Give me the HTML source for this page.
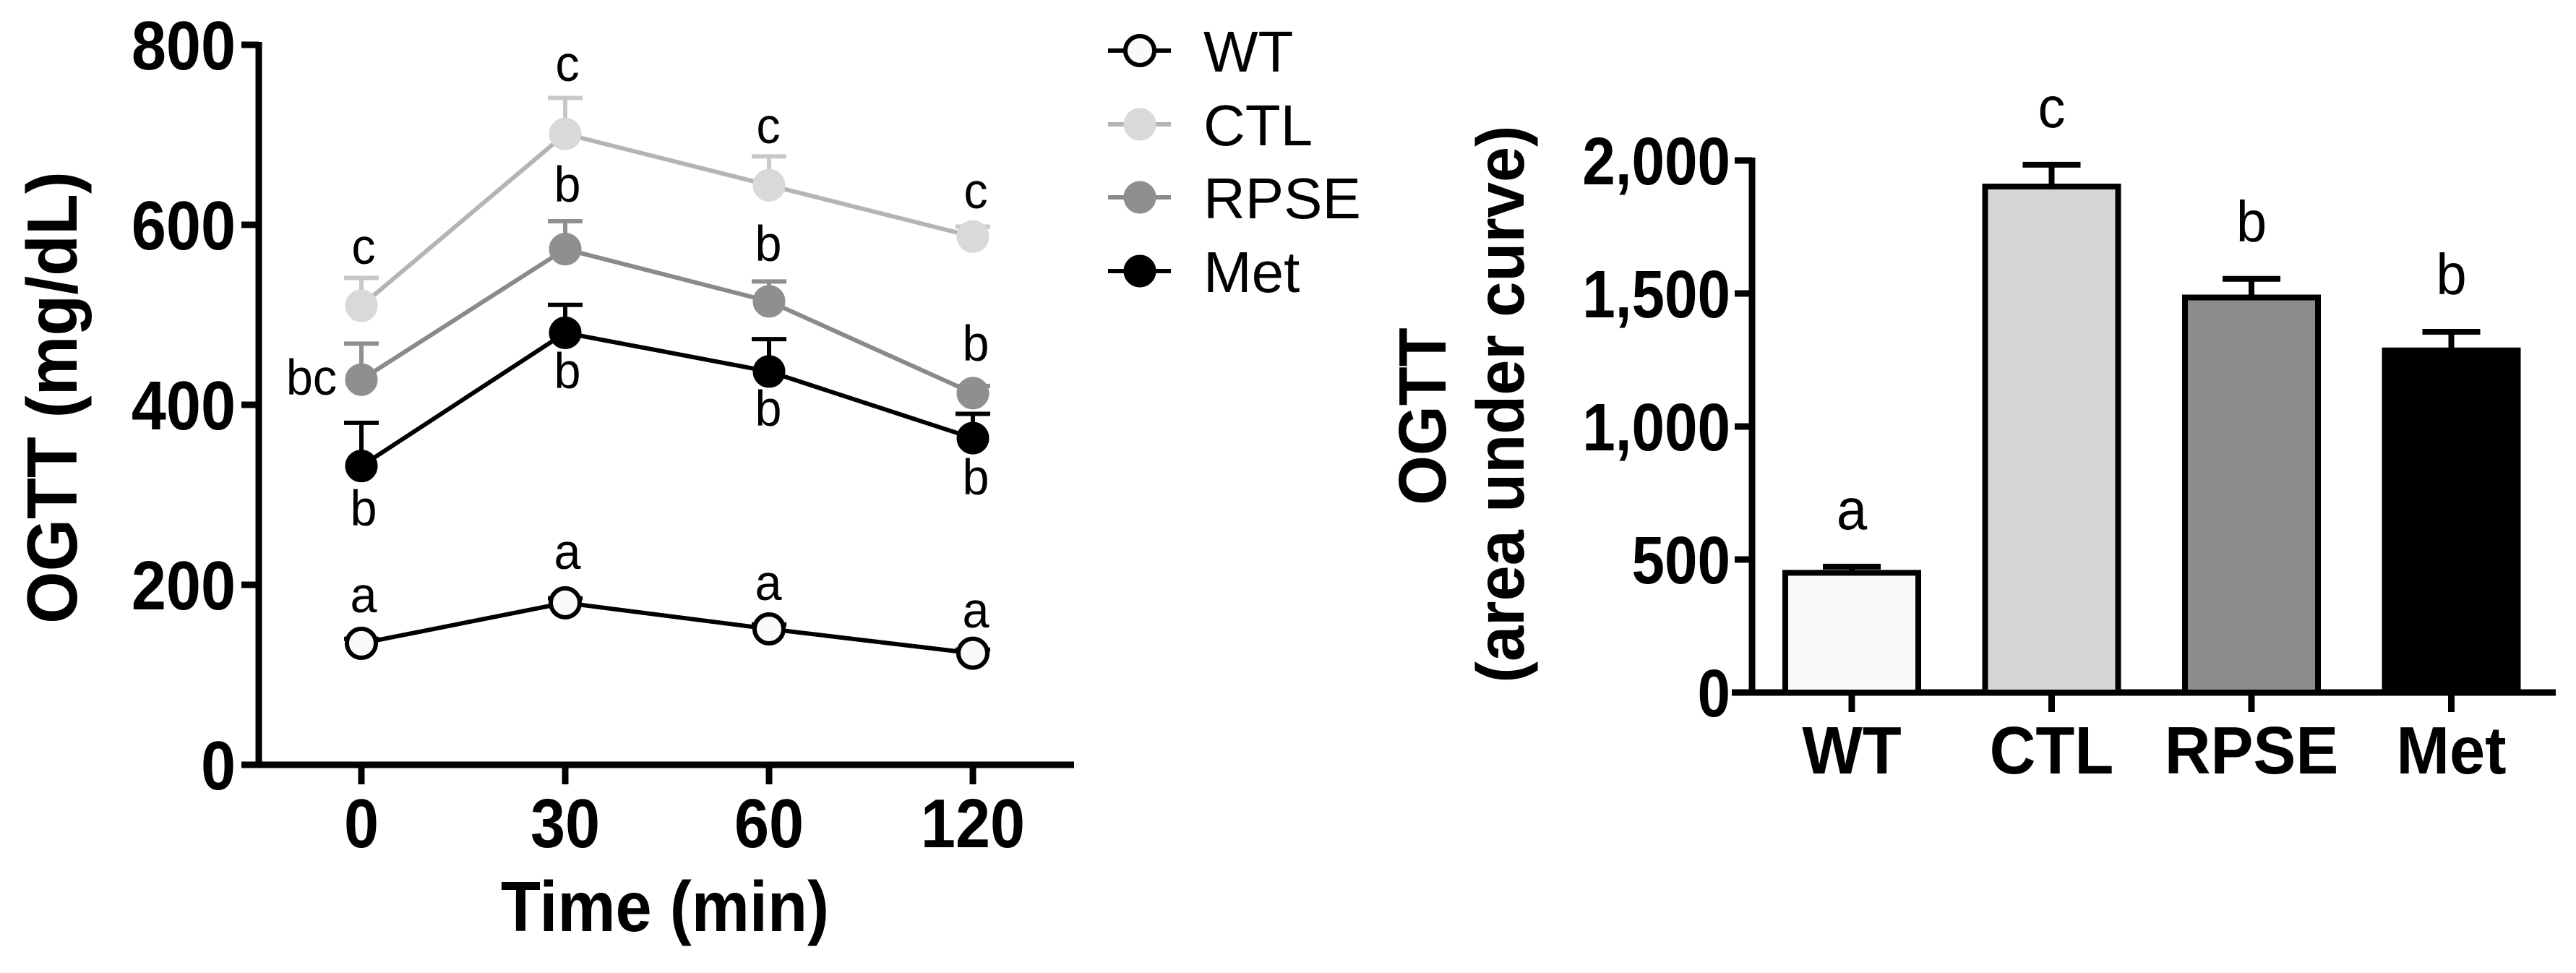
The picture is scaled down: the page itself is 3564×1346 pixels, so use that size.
<!DOCTYPE html>
<html><head><meta charset="utf-8"><style>
html,body{margin:0;padding:0;background:#fff;}
svg{display:block;font-family:"Liberation Sans",Arial,sans-serif;}
</style></head><body>
<svg id="c" width="3564" height="1346" viewBox="0 0 3564 1346"></svg>
<script>
const times=["0","30","60","120"];
const yTicksL=[0,200,400,600,800];
const seriesNames=["WT","CTL","RPSE","Met"];
const wtVals=[135,180,151,124];
const wtErr=[140,185,156,128];
const ctlVals=[510,701,644,587];
const ctlErr=[541,741,676,598];
const rpseVals=[428,573,515,413];
const rpseErr=[468,604,537,421];
const metVals=[332,480,437,363];
const metErr=[380,511,473,390];
const wtLetters=["a","a","a","a"];
const ctlLetters=["c","c","c","c"];
const rpseLetters=["bc","b","b","b"];
const metLetters=["b","b","b","b"];
const barCats=["WT","CTL","RPSE","Met"];
const barVals=[450,1902,1485,1286];
const barErr=[473,1984,1555,1356];
const barLetters=["a","c","b","b"];
const yTicksR=[0,500,1000,1500,2000];
const yTickLabelsR=["0","500","1,000","1,500","2,000"];

const NS="http://www.w3.org/2000/svg";
const svg=document.getElementById('c');
function mk(tag,attrs,parent){const e=document.createElementNS(NS,tag);for(const k in attrs)e.setAttribute(k,attrs[k]);(parent||svg).appendChild(e);return e;}
function txt(s,attrs,squeeze){const e=mk('text',attrs);e.textContent=s;if(squeeze){const l=e.getComputedTextLength();e.setAttribute('textLength',l*squeeze);e.setAttribute('lengthAdjust','spacingAndGlyphs');}return e;}

const yL=v=>1058-v*1.245;
const xL=i=>500+i*282;
let e=mk('line',{x1:358,y1:58,x2:358,y2:1058,stroke:'#000','stroke-width':9});

e=mk('line',{x1:354,y1:1058,x2:1486,y2:1058,stroke:'#000','stroke-width':9});

yTicksL.forEach(v=>{
  e=mk('line',{x1:334,y1:yL(v),x2:358,y2:yL(v),stroke:'#000','stroke-width':9});
  
  e=txt(String(v),{x:326,y:yL(v)+34,'text-anchor':'end','font-size':96,'font-weight':'bold'},0.9);
  
});
times.forEach((t,i)=>{
  e=mk('line',{x1:xL(i),y1:1058,x2:xL(i),y2:1085,stroke:'#000','stroke-width':9});
  
  e=txt(t,{x:xL(i),y:1172,'text-anchor':'middle','font-size':96,'font-weight':'bold'},0.9);
  
});
e=txt("Time (min)",{x:920,y:1288,'text-anchor':'middle','font-size':98,'font-weight':'bold'},0.92);

e=txt("OGTT (mg/dL)",{x:0,y:0,'text-anchor':'middle','font-size':98,'font-weight':'bold',transform:'translate(106,550) rotate(-90)'},0.95);


const series=[
 {n:'ctl',v:ctlVals,er:ctlErr,lt:ctlLetters,line:'#b4b4b4',fill:'#d9d9d9',stroke:'#d9d9d9',errc:'#c8c8c8'},
 {n:'rpse',v:rpseVals,er:rpseErr,lt:rpseLetters,line:'#8a8a8a',fill:'#8f8f8f',stroke:'#8f8f8f',errc:'#8f8f8f'},
 {n:'met',v:metVals,er:metErr,lt:metLetters,line:'#000',fill:'#000',stroke:'#000',errc:'#000'},
 {n:'wt',v:wtVals,er:wtErr,lt:wtLetters,line:'#000',fill:'#fafafa',stroke:'#000',errc:'#000'}
];
series.forEach(s=>{
  s.v.forEach((v,i)=>{
    e=mk('line',{x1:xL(i),y1:yL(v),x2:xL(i),y2:yL(s.er[i]),stroke:s.errc,'stroke-width':6});
    
    e=mk('line',{x1:xL(i)-24,y1:yL(s.er[i]),x2:xL(i)+24,y2:yL(s.er[i]),stroke:s.errc,'stroke-width':6});
    
  });
  e=mk('polyline',{points:s.v.map((v,i)=>xL(i)+','+yL(v)).join(' '),fill:'none',stroke:s.line,'stroke-width':6});
  
  s.v.forEach((v,i)=>{
    e=mk('circle',{cx:xL(i),cy:yL(v),r:s.n==='wt'?20:22,fill:s.fill,stroke:s.stroke,'stroke-width':s.n==='wt'?6:1});
    
  });
});
const letterPos={ctl:[[503,365],[785,112],[1063,198],[1350,288]],rpse:[[431,546],[785,279],[1063,361],[1350,499]],met:[[503,727],[785,537],[1063,589],[1350,684]],wt:[[503,847],[785,787],[1063,830],[1350,868]]};
series.forEach(s=>{
  s.lt.forEach((l,i)=>{
    const p=letterPos[s.n][i];
    e=txt(l,{x:p[0],y:p[1],'text-anchor':'middle','font-size':70},0.95);
    
  });
});
const legFill=['#fafafa','#d9d9d9','#8f8f8f','#000'];
const legLine=['#000','#b4b4b4','#8a8a8a','#000'];
const legY=[70,172,273,375];
seriesNames.forEach((n,i)=>{
  const g=mk('g',{});
  
  mk('line',{x1:1533,y1:legY[i],x2:1620,y2:legY[i],stroke:legLine[i],'stroke-width':6},g);
  mk('circle',{cx:1577,cy:legY[i],r:i===0?20:22,fill:legFill[i],stroke:i===0?'#000':legFill[i],'stroke-width':i===0?6:1},g);
  const t=mk('text',{x:1665,y:legY[i]+29,'font-size':80},g);t.textContent=n;
});

const yR=v=>958-v*0.368;
const xR=i=>2562+i*276.5;
e=mk('line',{x1:2424,y1:218,x2:2424,y2:958,stroke:'#000','stroke-width':9});

e=mk('line',{x1:2396,y1:958,x2:3536,y2:958,stroke:'#000','stroke-width':9});

yTicksR.forEach((v,i)=>{
  e=mk('line',{x1:2400,y1:yR(v),x2:2424,y2:yR(v),stroke:'#000','stroke-width':9});
  
  e=txt(yTickLabelsR[i],{x:2394,y:yR(v)+33,'text-anchor':'end','font-size':93,'font-weight':'bold'},0.88);
  
});
const barFill=['#fafafa','#d6d6d6','#8c8c8c','#000'];
barCats.forEach((c,i)=>{
  e=mk('line',{x1:xR(i),y1:yR(barVals[i]),x2:xR(i),y2:yR(barErr[i]),stroke:'#000','stroke-width':8});
  
  e=mk('line',{x1:xR(i)-40,y1:yR(barErr[i]),x2:xR(i)+40,y2:yR(barErr[i]),stroke:'#000','stroke-width':8});
  
  e=mk('rect',{x:xR(i)-92,y:yR(barVals[i]),width:184,height:958-yR(barVals[i]),fill:barFill[i],stroke:'#000','stroke-width':8});
  
  e=mk('line',{x1:xR(i),y1:958,x2:xR(i),y2:985,stroke:'#000','stroke-width':9});
  
  e=txt(c,{x:xR(i),y:1070,'text-anchor':'middle','font-size':93,'font-weight':'bold'},0.95);
  
  e=txt(barLetters[i],{x:xR(i),y:yR(barErr[i])-52,'text-anchor':'middle','font-size':80},0.95);
  
});
e=txt("OGTT",{x:0,y:0,'text-anchor':'middle','font-size':93,'font-weight':'bold',transform:'translate(2000,576) rotate(-90)'},0.95);

e=txt("(area under curve)",{x:0,y:0,'text-anchor':'middle','font-size':93,'font-weight':'bold',transform:'translate(2108,559) rotate(-90)'},0.95);

</script>
</body></html>
